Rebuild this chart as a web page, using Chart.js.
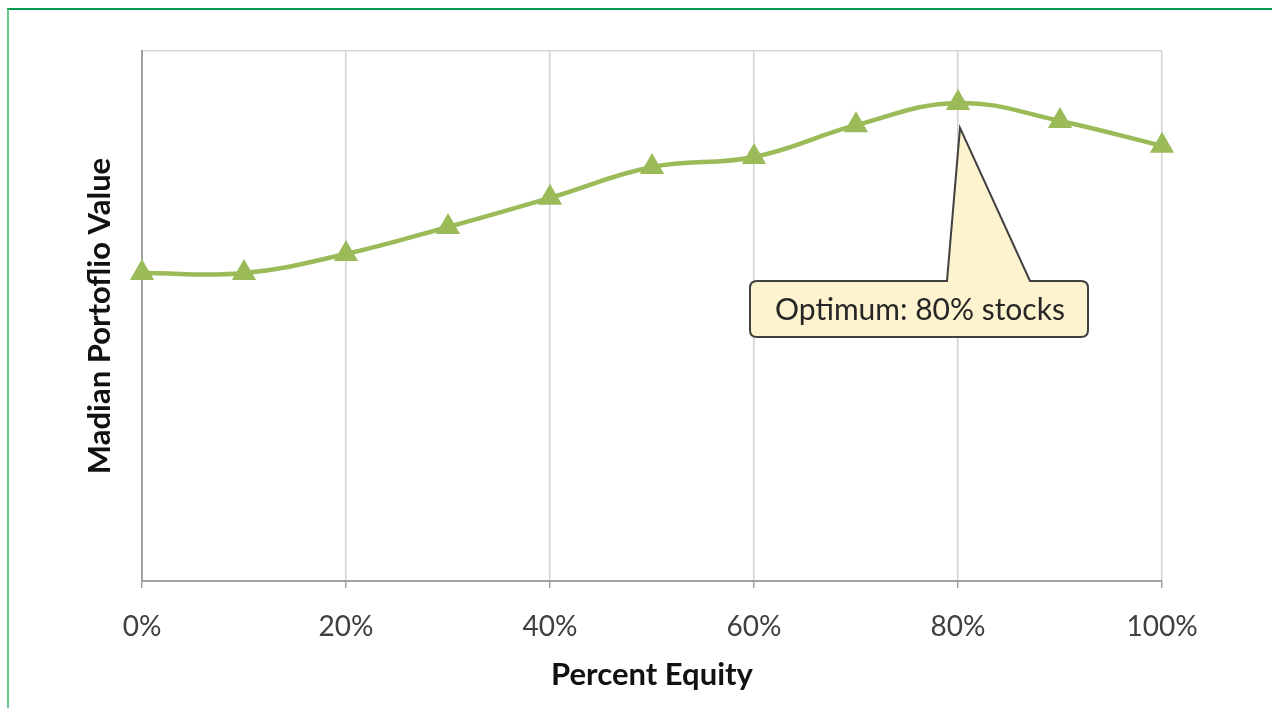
<!DOCTYPE html>
<html>
<head>
<meta charset="utf-8">
<script src="https://cdn.jsdelivr.net/npm/chart.js@4.4.1/dist/chart.umd.min.js"></script>
<style>
  html, body { margin: 0; padding: 0; background: #fff; }
  #wrap { position: relative; width: 1272px; height: 708px; overflow: hidden; }
  #topLine { position: absolute; left: 7px; top: 8px; width: 1265px; height: 2px; background: #009a4e; }
  #leftLine { position: absolute; left: 7px; top: 9px; width: 2px; height: 699px; background: #6cc78f; }
  canvas { position: absolute; left: 0; top: 0; }
</style>
</head>
<body>
<div id="wrap">
  <canvas id="equityChart" width="1272" height="708"></canvas>
  <div id="topLine"></div>
  <div id="leftLine"></div>
</div>
<script>
// Percent equity (x) and median portfolio value (relative, y axis has no scale)
const equityPct = [0, 10, 20, 30, 40, 50, 60, 70, 80, 90, 100];
const medianValue = [58.1, 58.1, 61.7, 66.8, 72.3, 78.1, 80.0, 86.0, 90.2, 86.8, 82.1];
const xTicks = [0, 20, 40, 60, 80, 100];
const calloutText = 'Optimum: 80% stocks';
const optimumIndex = 8;

const lineGreen = '#9bbb59';
const labelFont = "Lato, 'Open Sans', 'Liberation Sans', sans-serif";

// draws the yellow callout pointing to the optimum point
const calloutPlugin = {
    id: 'callout',
    afterDatasetsDraw(chart) {
        const pt = chart.getDatasetMeta(0).data[optimumIndex];
        if (!pt) return;
        const ctx = chart.ctx;
        const px = pt.x, py = pt.y;

        const left = px - 208, right = px + 130;
        const top = py + 178, bottom = py + 234;
        const r = 7;
        const tipX = px + 2, tipY = py + 25;
        const baseA = px - 11, baseB = px + 72;

        ctx.save();
        ctx.beginPath();
        ctx.moveTo(left + r, top);
        ctx.lineTo(baseA, top);
        ctx.lineTo(tipX, tipY);
        ctx.lineTo(baseB, top);
        ctx.lineTo(right - r, top);
        ctx.quadraticCurveTo(right, top, right, top + r);
        ctx.lineTo(right, bottom - r);
        ctx.quadraticCurveTo(right, bottom, right - r, bottom);
        ctx.lineTo(left + r, bottom);
        ctx.quadraticCurveTo(left, bottom, left, bottom - r);
        ctx.lineTo(left, top + r);
        ctx.quadraticCurveTo(left, top, left + r, top);
        ctx.closePath();
        ctx.fillStyle = '#fdf3cf';
        ctx.fill();
        ctx.lineWidth = 2;
        ctx.strokeStyle = '#404040';
        ctx.stroke();

        ctx.fillStyle = '#262626';
        ctx.font = '30px ' + labelFont;
        ctx.textAlign = 'center';
        ctx.textBaseline = 'middle';
        ctx.fillText(calloutText, (left + right) / 2 + 1, (top + bottom) / 2 + 1);
        ctx.restore();
    }
};

const ctx = document.getElementById('equityChart').getContext('2d');
new Chart(ctx, {
    type: 'line',
    data: {
        datasets: [{
            label: 'Median Portfolio Value',
            data: equityPct.map((x, i) => ({ x: x, y: medianValue[i] })),
            borderColor: lineGreen,
            backgroundColor: lineGreen,
            borderWidth: 4.5,
            tension: 0.4,
            clip: false,
            pointStyle: 'triangle',
            pointRadius: 14,
            pointHoverRadius: 14,
            pointBorderWidth: 0
        }]
    },
    options: {
        responsive: false,
        animation: false,
        layout: { padding: { left: 81, top: 51, right: 110, bottom: 0 } },
        plugins: {
            legend: { display: false },
            tooltip: { enabled: false }
        },
        scales: {
            x: {
                type: 'linear',
                min: 0,
                max: 100,
                afterBuildTicks: (scale) => { scale.ticks = xTicks.map(v => ({ value: v })); },
                afterFit: (scale) => { scale.height = 127; },
                ticks: {
                    callback: (v) => v + '%',
                    color: '#404040',
                    font: { family: labelFont, size: 28 },
                    padding: 22,
                    maxRotation: 0
                },
                grid: {
                    color: '#d0d0d0',
                    tickColor: '#a0a0a0',
                    tickLength: 7,
                    lineWidth: 1.5
                },
                border: { display: true, color: '#a0a0a0', width: 2 },
                title: {
                    display: true,
                    text: 'Percent Equity',
                    color: '#111',
                    font: { family: labelFont, size: 31, weight: 'bold' },
                    padding: { top: 0, bottom: 14 }
                }
            },
            y: {
                min: 0,
                max: 100,
                afterBuildTicks: (scale) => { scale.ticks = [{ value: 0 }, { value: 100 }]; },
                afterFit: (scale) => { scale.width = 61; },
                ticks: { display: false },
                grid: {
                    drawTicks: false,
                    lineWidth: 1.5,
                    color: (c) => c.tick && c.tick.value === 100 ? '#d8d8d8' : 'rgba(0,0,0,0)'
                },
                border: { display: true, color: '#a0a0a0', width: 2 },
                title: {
                    display: true,
                    text: 'Madian Portoflio Value',
                    color: '#111',
                    font: { family: labelFont, size: 31, weight: 'bold' },
                    padding: { top: 0, bottom: 0 }
                }
            }
        }
    },
    plugins: [calloutPlugin]
});
</script>
</body>
</html>
